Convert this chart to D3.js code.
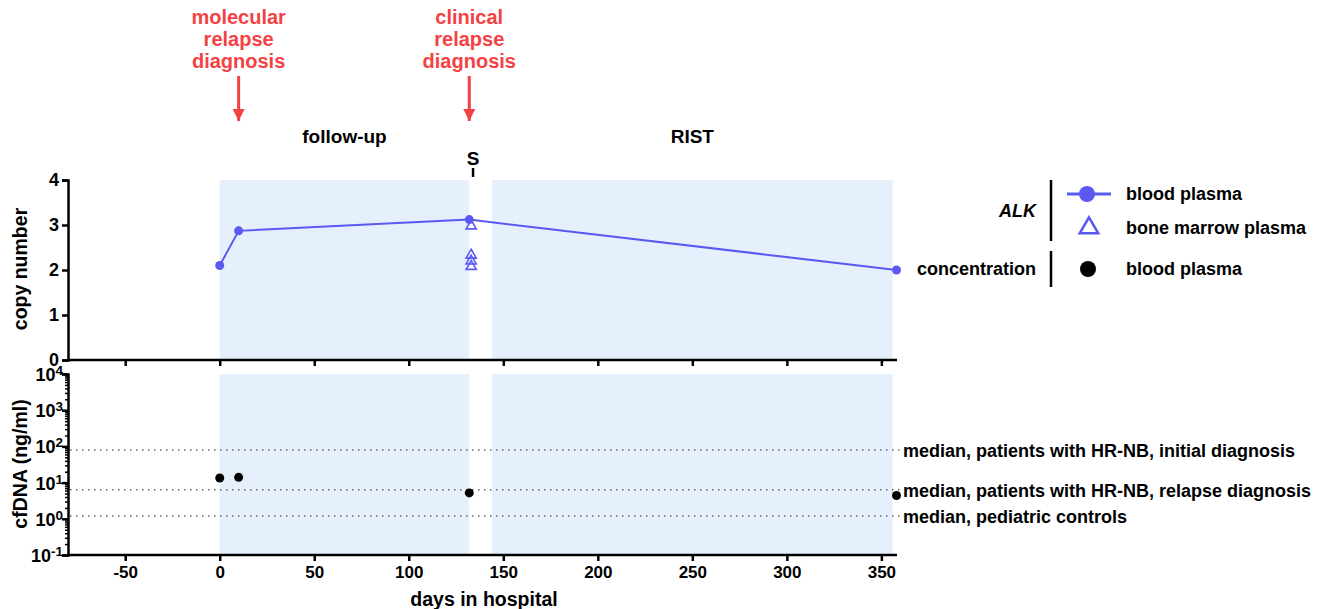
<!DOCTYPE html>
<html>
<head>
<meta charset="utf-8">
<script src="https://cdn.jsdelivr.net/npm/d3@7"></script>
<style>
  body { margin: 0; background: #fff; }
  text { font-family: "Liberation Sans", Arial, sans-serif; font-weight: bold; }
</style>
</head>
<body>
<script>
// data
var bloodDays = [0, 10, 132, 358];
var bloodCopy = [2.1, 2.87, 3.12, 2.0];
var marrowDays = [133, 133, 133, 133];
var marrowCopy = [2.98, 2.33, 2.2, 2.08];
var cfDays = [0, 10, 132, 358];
var cfConc = [13.4, 14, 5.2, 4.4];
var medianValues = [80, 6.3, 1.2];
var medianLabels = ["median, patients with HR-NB, initial diagnosis",
                    "median, patients with HR-NB, relapse diagnosis",
                    "median, pediatric controls"];
var phases = [{name: "follow-up", start: 0, end: 132}, {name: "RIST", start: 144, end: 356}];
var xTicks = [-50, 0, 50, 100, 150, 200, 250, 300, 350];
var copyTicks = [0, 1, 2, 3, 4];
var logTicks = [-1, 0, 1, 2, 3, 4];

var blue = "#5a5af2", red = "#f44244", shade = "#e6f0fc";

var svg = d3.select("body").append("svg")
    .attr("width", 1321).attr("height", 609);

var x = d3.scaleLinear().domain([-80, 358]).range([68.5, 896.5]);
var yTop = d3.scaleLinear().domain([0, 4]).range([360, 180]);
var yBot = d3.scaleLog().domain([0.1, 10000]).range([555, 374]);

function boldTicks(g, size) {
  g.selectAll("text").attr("font-size", size).attr("font-family", "Liberation Sans, Arial, sans-serif")
    .attr("font-weight", "bold").attr("fill", "#000");
  g.selectAll("line,path").attr("stroke-width", 2.5);
}

// shaded phases
phases.forEach(function(p) {
  svg.append("rect").attr("x", x(p.start)).attr("width", x(p.end) - x(p.start))
    .attr("y", 180).attr("height", 180).attr("fill", shade);
  svg.append("rect").attr("x", x(p.start)).attr("width", x(p.end) - x(p.start))
    .attr("y", 374).attr("height", 181).attr("fill", shade);
  svg.append("text").attr("x", (x(p.start) + x(p.end)) / 2)
    .attr("y", 143).attr("text-anchor", "middle").attr("font-size", 19).text(p.name);
});

// "S" marker (surgery)
svg.append("text").attr("x", x(134)).attr("y", 165).attr("text-anchor", "middle")
  .attr("font-size", 19).text("S");
svg.append("line").attr("x1", x(134)).attr("x2", x(134)).attr("y1", 168).attr("y2", 177)
  .attr("stroke", "#000").attr("stroke-width", 2.5);

// annotations
var notes = [{day: 10, lines: ["molecular", "relapse", "diagnosis"]},
             {day: 132, lines: ["clinical", "relapse", "diagnosis"]}];
svg.append("defs").append("marker").attr("id", "arr").attr("viewBox", "0 0 10 10")
  .attr("refX", 10).attr("refY", 5).attr("markerWidth", 4).attr("markerHeight", 4)
  .attr("markerUnits", "strokeWidth").attr("orient", "auto")
  .append("path").attr("d", "M0,0L10,5L0,10z").attr("fill", red);
notes.forEach(function(n) {
  n.lines.forEach(function(l, i) {
    svg.append("text").attr("x", x(n.day)).attr("y", 24 + i * 22)
      .attr("text-anchor", "middle").attr("font-size", 20).attr("fill", red).text(l);
  });
  svg.append("line").attr("x1", x(n.day)).attr("x2", x(n.day))
    .attr("y1", 76).attr("y2", 121).attr("stroke", red).attr("stroke-width", 3)
    .attr("marker-end", "url(#arr)");
});

var fmt = function(d) { return String(d); };

// top axes
svg.append("g").attr("transform", "translate(68,0)")
  .call(d3.axisLeft(yTop).tickValues(copyTicks).tickSize(6).tickPadding(3).tickFormat(fmt))
  .call(boldTicks, 18);
svg.append("g").attr("transform", "translate(0,360)")
  .call(d3.axisBottom(x).tickValues(xTicks).tickSize(6).tickFormat(""))
  .call(boldTicks, 17)
  .call(function(g) { g.select("path").attr("d", "M68,0H897"); });

// bottom axes (log)
var minor = [];
for (var e = -1; e < 4; e++) for (var k = 2; k < 10; k++) minor.push(k * Math.pow(10, e));
var gb = svg.append("g").attr("transform", "translate(68,0)")
  .call(d3.axisLeft(yBot).tickValues(minor).tickSize(3).tickFormat(""));
gb.selectAll("line").attr("stroke-width", 1.5);
gb.select("path").remove();
svg.append("g").attr("transform", "translate(68,0)")
  .call(d3.axisLeft(yBot).tickValues(logTicks.map(function(v) { return Math.pow(10, v); })).tickSize(6).tickFormat(""))
  .call(boldTicks, 17);
logTicks.forEach(function(v) {
  var t = svg.append("text").attr("x", 63).attr("y", yBot(Math.pow(10, v)) + 7)
    .attr("text-anchor", "end").attr("font-size", 18);
  t.append("tspan").text("10");
  t.append("tspan").attr("dy", -6).attr("font-size", 13.5).text(v);
});
svg.append("g").attr("transform", "translate(0,555)")
  .call(d3.axisBottom(x).tickValues(xTicks).tickSize(6).tickPadding(5).tickFormat(fmt))
  .call(boldTicks, 17)
  .call(function(g) { g.select("path").attr("d", "M68,0H897"); });

// axis titles
svg.append("text").attr("x", 484).attr("y", 606).attr("text-anchor", "middle")
  .attr("font-size", 19.5).text("days in hospital");
svg.append("text").attr("transform", "translate(27,269) rotate(-90)").attr("text-anchor", "middle")
  .attr("font-size", 19.5).text("copy number");
svg.append("text").attr("transform", "translate(27,464) rotate(-90)").attr("text-anchor", "middle")
  .attr("font-size", 19.5).text("cfDNA (ng/ml)");

// median lines
medianValues.forEach(function(m, i) {
  svg.append("line").attr("x1", 70).attr("x2", 900).attr("y1", yBot(m)).attr("y2", yBot(m))
    .attr("stroke", "#666").attr("stroke-width", 1.5).attr("stroke-dasharray", "1.5,4.5");
  svg.append("text").attr("x", 903).attr("y", yBot(m) + 7).attr("font-size", 18).text(medianLabels[i]);
});

// blood plasma copy number
var pts = bloodDays.map(function(d, i) { return [d, bloodCopy[i]]; });
svg.append("path").datum(pts).attr("fill", "none").attr("stroke", blue).attr("stroke-width", 2)
  .attr("d", d3.line().x(function(d) { return x(d[0]); }).y(function(d) { return yTop(d[1]); }));
svg.selectAll(".bp").data(pts).enter().append("circle")
  .attr("cx", function(d) { return x(d[0]); }).attr("cy", function(d) { return yTop(d[1]); })
  .attr("r", 4.5).attr("fill", blue);

// bone marrow triangles
var tri = d3.symbol().type(d3.symbolTriangle).size(45);
svg.selectAll(".bm").data(marrowDays.map(function(d, i) { return [d, marrowCopy[i]]; })).enter()
  .append("path").attr("d", tri)
  .attr("transform", function(d) { return "translate(" + x(d[0]) + "," + yTop(d[1]) + ")"; })
  .attr("fill", "none").attr("stroke", blue).attr("stroke-width", 1.6);

// cfDNA concentration
svg.selectAll(".cf").data(cfDays.map(function(d, i) { return [d, cfConc[i]]; })).enter()
  .append("circle").attr("cx", function(d) { return x(d[0]); }).attr("cy", function(d) { return yBot(d[1]); })
  .attr("r", 4.5).attr("fill", "#000");

// legend
var lg = svg.append("g");
lg.append("text").attr("x", 1036).attr("y", 217).attr("text-anchor", "end").attr("font-size", 18)
  .attr("font-style", "italic").text("ALK");
lg.append("line").attr("x1", 1051).attr("x2", 1051).attr("y1", 180).attr("y2", 241)
  .attr("stroke", "#000").attr("stroke-width", 2.5);
lg.append("line").attr("x1", 1067).attr("x2", 1111).attr("y1", 194).attr("y2", 194)
  .attr("stroke", blue).attr("stroke-width", 3);
lg.append("circle").attr("cx", 1087).attr("cy", 194).attr("r", 8).attr("fill", blue);
lg.append("text").attr("x", 1126).attr("y", 200).attr("font-size", 18).text("blood plasma");
lg.append("path").attr("d", d3.symbol().type(d3.symbolTriangle).size(150))
  .attr("transform", "translate(1089,228)").attr("fill", "none").attr("stroke", blue).attr("stroke-width", 2.5);
lg.append("text").attr("x", 1126).attr("y", 234).attr("font-size", 18).text("bone marrow plasma");
lg.append("text").attr("x", 1036).attr("y", 275).attr("text-anchor", "end").attr("font-size", 18).text("concentration");
lg.append("line").attr("x1", 1051).attr("x2", 1051).attr("y1", 251).attr("y2", 287)
  .attr("stroke", "#000").attr("stroke-width", 2.5);
lg.append("circle").attr("cx", 1088).attr("cy", 269).attr("r", 8).attr("fill", "#000");
lg.append("text").attr("x", 1126).attr("y", 275).attr("font-size", 18).text("blood plasma");
</script>
</body>
</html>
